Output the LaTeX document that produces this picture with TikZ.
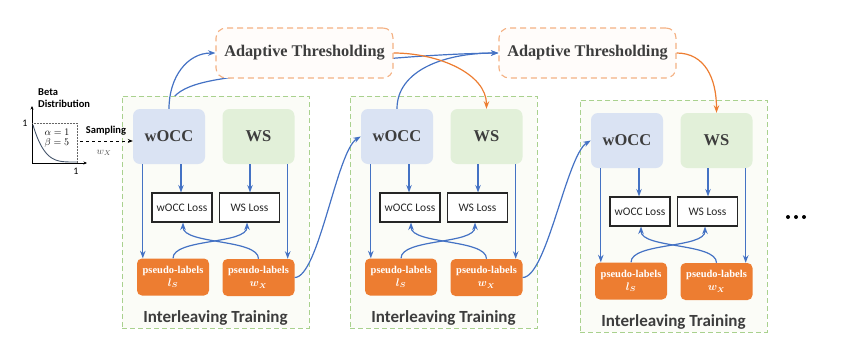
\documentclass[tikz,border=0pt]{standalone}
\usepackage{bm}
\usepackage{fontspec}
\setmainfont{Liberation Serif}
\newfontfamily\calfont{Carlito}
\usetikzlibrary{arrows.meta,backgrounds}

\definecolor{linkblue}{HTML}{4472C4}
\definecolor{linkorange}{HTML}{ED7D31}
\definecolor{framegreen}{HTML}{A9D18E}
\definecolor{framefill}{HTML}{FBFCF7}
\definecolor{woccfill}{HTML}{DAE3F3}
\definecolor{wsfill}{HTML}{E2F0D9}
\definecolor{thrline}{HTML}{F4B183}
\definecolor{thrfill}{HTML}{FFFCFA}
\definecolor{darktext}{HTML}{3D3D3D}
\definecolor{curvecol}{HTML}{44546A}

\tikzset{
  panelframe/.style={draw=framegreen, fill=framefill, line width=0.9pt,
    dash pattern=on 5pt off 3pt, minimum width=187pt, minimum height=232pt},
  model/.style={rounded corners=7pt, minimum width=72pt, minimum height=55pt,
    text=darktext, font=\bfseries\fontsize{16.5}{18}\selectfont},
  lossbox/.style={draw=black!85, fill=white, line width=1.1pt, minimum width=60pt,
    minimum height=29pt, font=\calfont\fontsize{11.5}{12}\selectfont, text=black!85},
  plabel/.style={fill=linkorange, rounded corners=5pt, minimum width=72pt,
    minimum height=37pt, text=white, align=center, inner sep=1pt,
    font=\bfseries\fontsize{10.5}{14}\selectfont},
  thrbox/.style={draw=thrline, fill=thrfill, line width=1.1pt,
    dash pattern=on 6pt off 4pt, rounded corners=10pt, minimum width=177pt,
    minimum height=50pt, text=darktext, font=\bfseries\fontsize{16.3}{18}\selectfont},
  paneltitle/.style={text=darktext, font=\calfont\bfseries\fontsize{17}{18}\selectfont},
  link/.style={draw=linkblue, line width=1.2pt, -{Stealth[length=7.5pt,width=5.5pt]}},
  olink/.style={draw=linkorange, line width=1.2pt, -{Stealth[length=7.5pt,width=5.5pt]}},
  smalltext/.style={font=\calfont\bfseries\fontsize{10.5}{12}\selectfont, inner sep=0pt},
}

% One interleaving-training block: #1 name suffix, #2/#3 shift
\newcommand\trainpanel[3]{%
\begin{scope}[shift={(#2,#3)}]
  \node[panelframe] (frame#1) at (215.5,212) {};
  \node[model, fill=woccfill] (wocc#1) at (169,136.5) {wOCC};
  \node[model, fill=wsfill] (ws#1) at (258.5,136.5) {WS};
  \node[lossbox] (lw#1) at (182,207.5) {wOCC Loss};
  \node[lossbox] (lws#1) at (249.5,207.5) {WS Loss};
  \node[plabel] (pls#1) at (173,277) {pseudo-labels\\[-1pt]$\bm{l_S}$};
  \node[plabel] (plw#1) at (258.5,277.5) {pseudo-labels\\[-1pt]$\bm{w_X}$};
  \node[paneltitle] (title#1) at (215.5,318) {Interleaving Training};
  \draw[link] ([xshift=10pt]wocc#1.south west) -- ([xshift=10pt]wocc#1.south west |- pls#1.north);
  \draw[link] ([xshift=12pt]wocc#1.south) -- ([xshift=12pt]wocc#1.south |- lw#1.north);
  \draw[link] ([xshift=-8.5pt]ws#1.south) -- ([xshift=-8.5pt]ws#1.south |- lws#1.north);
  \draw[link] ([xshift=-7pt]ws#1.south east) -- ([xshift=-7pt]ws#1.south east |- plw#1.north);
  \draw[link] (pls#1.north) .. controls +(0,-20) and +(0,22) .. ([xshift=-2.5pt]lws#1.south);
  \draw[link] (plw#1.north) .. controls +(0,-20) and +(0,22) .. ([xshift=1pt]lw#1.south);
\end{scope}}

\begin{document}
\begin{tikzpicture}[x=1pt, y=-1pt]
\useasboundingbox (0,0) rectangle (849,354);

\trainpanel{1}{0}{0}
\trainpanel{2}{228}{0}
\trainpanel{3}{458}{4}

% adaptive thresholding boxes
\node[thrbox] (at1) at (304.5,53) {Adaptive Thresholding};
\node[thrbox] (at2) at (587.5,53) {Adaptive Thresholding};

% wOCC of the first block also feeds the second thresholding step
\begin{pgfonlayer}{background}
  \draw[link] (wocc1.north) .. controls +(2,-24) and +(-40,5) .. (250,75)
      .. controls (320,64) and (420,54) .. (at2.west);
\end{pgfonlayer}

\draw[link] (wocc1.north) .. controls +(0,-32) and +(-28,0) .. (at1.west);
\draw[link] (wocc2.north) .. controls +(0,-38) and +(-55,0) .. (at2.west);
\draw[olink] (at1.east) .. controls +(45,0) and +(0,-35) .. (ws2.north);
\draw[olink] (at2.east) .. controls +(28,0) and +(0,-35) .. (ws3.north);
\draw[link] (plw1.east) .. controls +(24,0) and +(-24,14) .. (wocc2.west);
\draw[link] (plw2.east) .. controls +(24,0) and +(-24,14) .. (wocc3.west);

% Beta distribution inset
\node[smalltext, anchor=west] (betalbl) at (38,92) {Beta};
\node[smalltext, anchor=west] (distlbl) at (38,104) {Distribution};
\draw[line width=0.7pt, -{Stealth[length=3.5pt,width=3pt]}] (32,163) -- (32,106);
\draw[line width=0.7pt, -{Stealth[length=3.5pt,width=3pt]}] (32,163) -- (87,163);
\draw[densely dotted, line width=0.5pt, black!60] (32,123) -| (77,163);
\draw[curvecol, line width=0.9pt] plot[domain=0:1, samples=50, smooth]
  ({33+44*\x},{162-37*(1-\x)^4});
\node[font=\calfont\fontsize{10}{11}\selectfont, inner sep=0pt] (ylab) at (25,123) {1};
\node[font=\calfont\fontsize{10}{11}\selectfont, inner sep=0pt] (xlab) at (76,171) {1};
\node[font=\fontsize{10}{11}\selectfont, inner sep=0pt] (alab) at (57,132) {$\alpha=1$};
\node[font=\fontsize{10}{11}\selectfont, inner sep=0pt] (blab) at (57,143) {$\beta=5$};
\node[smalltext] (samplbl) at (106,131) {Sampling};
\node[font=\fontsize{10}{11}\selectfont, inner sep=0pt, text=black!70] (wxlab) at (104,153) {$w_X$};
\coordinate (sampstart) at (80,141);
\draw[line width=1pt, dashed, -{Stealth[length=5pt,width=4pt]}] (sampstart) -- (sampstart -| wocc1.west);

% continuation dots
\foreach \dx in {0,8,16} \fill (788+\dx,217) circle (2pt);
\end{tikzpicture}
\end{document}
